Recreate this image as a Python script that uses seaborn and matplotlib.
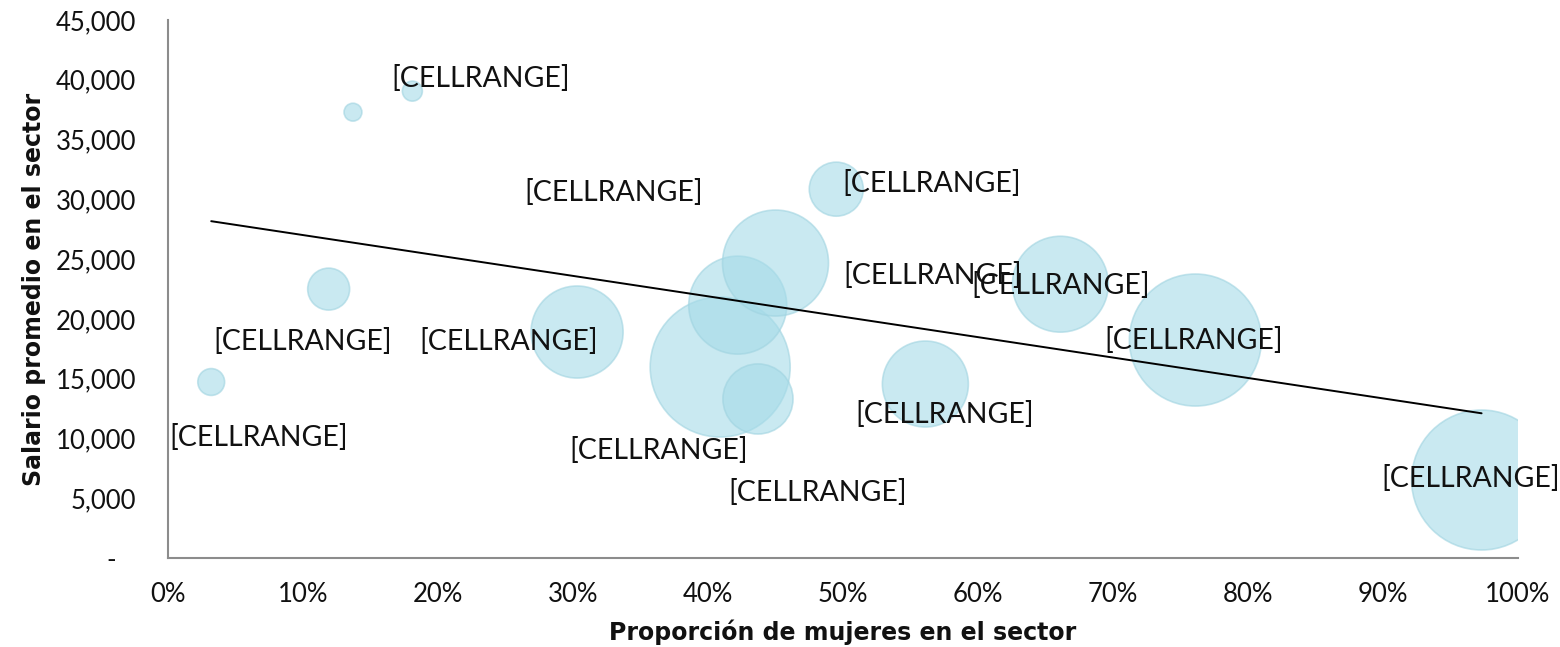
import pandas as pd
import matplotlib.pyplot as plt
import matplotlib.ticker as mticker
import seaborn as sns

sns.set_theme(style="white")
plt.rcParams['font.family'] = ['Lato', 'DejaVu Sans']

# Datos: proporción de mujeres, salario promedio, tamaño de la burbuja
proporcion = [0.032, 0.119, 0.137, 0.181, 0.303, 0.409, 0.422, 0.450, 0.437, 0.495, 0.561, 0.661, 0.761, 0.973]
salario = [14720, 22490, 37290, 39050, 18900, 15970, 21150, 24670, 13300, 30850, 14550, 22900, 18230, 6520]
tamano = [180, 440, 80, 100, 2120, 4900, 2400, 2810, 1230, 730, 1850, 2300, 4360, 4900]
etiqueta = ['[CELLRANGE]'] * 14
# desplazamiento de cada etiqueta respecto a su burbuja (puntos); None = sin etiqueta
despl = [(34, -40), (-19, -38), None, (49, 9), (-49, -7), (-44, -60), (-89, 81),
         (113, -9), (43, -67), (69, 4), (14, -22), (0, -1), (-1, 0), (-8, 1)]

df = pd.DataFrame({'proporcion': proporcion, 'salario': salario, 'tamano': tamano})

fig = plt.figure(figsize=(15.6, 6.47), dpi=100)
ax = fig.add_axes([0.1077, 0.1376, 0.8654, 0.8315])

max_t = max(tamano)
sns.scatterplot(data=df, x='proporcion', y='salario', size='tamano',
                sizes=(0, 10160), size_norm=(0, max_t), legend=False,
                color='#a5dbe8', alpha=0.6, edgecolor='#9fd3e0', linewidth=1.2, ax=ax)

# línea de tendencia lineal
sns.regplot(data=df, x='proporcion', y='salario', scatter=False, ci=None, truncate=True,
            color='black', line_kws={'linewidth': 1.4}, ax=ax)

for x, y, txt, d in zip(proporcion, salario, etiqueta, despl):
    if d is None:
        continue
    ax.annotate(txt, (x, y), xytext=d, textcoords='offset points',
                ha='center', va='center', fontsize=20.5, color='#111111')

ax.set_xlim(0, 1)
ax.set_ylim(0, 45000)
ax.xaxis.set_major_locator(mticker.MultipleLocator(0.1))
ax.xaxis.set_major_formatter(mticker.PercentFormatter(1.0, decimals=0))
ax.yaxis.set_major_locator(mticker.MultipleLocator(5000))
ax.yaxis.set_major_formatter(mticker.FuncFormatter(lambda v, p: '-   ' if v == 0 else f'{v:,.0f}'))

for s in ['top', 'right']:
    ax.spines[s].set_visible(False)
for s in ['left', 'bottom']:
    ax.spines[s].set_color('#8c8c8c')
    ax.spines[s].set_linewidth(1.5)
ax.tick_params(axis='both', which='major', direction='out', length=6, width=1.5,
               color='#8c8c8c', labelsize=18.5, labelcolor='#111111')
ax.tick_params(axis='y', pad=17)
ax.tick_params(axis='x', pad=11)

titulo = dict(fontsize=17, fontweight='bold', family='DejaVu Sans', color='#111111')
ax.set_xlabel('Proporción de mujeres en el sector', labelpad=9, **titulo)
ax.set_ylabel('Salario promedio en el sector', labelpad=7, **titulo)

plt.savefig('out.png', dpi=100)
